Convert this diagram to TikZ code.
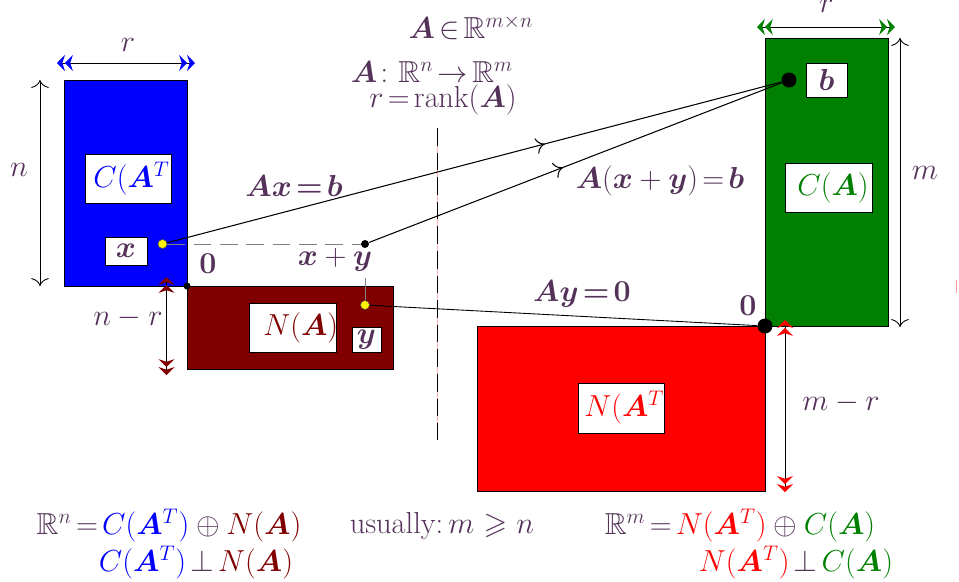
\documentclass[tikz,border=0pt]{standalone}
\usepackage{amsmath,amssymb,bm}
\usetikzlibrary{arrows.meta,decorations.markings}
\definecolor{txtcol}{RGB}{85,50,90}
\colorlet{rowcol}{blue}
\colorlet{nullcol}{red!50!black}
\colorlet{colcol}{green!50!black}
\colorlet{lnullcol}{red}
\thickmuskip=2.5mu
\tikzset{
	every node/.style={text=txtcol, font=\LARGE},
	lab/.style 2 args={draw=black, fill=white, inner sep=0pt, minimum width=#1, minimum height=#2},
	cut/.style n args={4}{draw=black, fill=white, inner sep=0pt, minimum width=#1, minimum height=#2,
		path picture={\node[anchor=west, inner sep=0pt, minimum width=0pt, minimum height=0pt, draw=none, fill=none]
			at ([xshift=#3]path picture bounding box.west) {#4};}},
	twin/.style={black, line width=0.5pt, {Stealth[length=4.5pt,width=9pt,inset=1.5pt,color=#1]Stealth[length=4.5pt,width=9pt,inset=1.5pt,color=#1]}-{Stealth[length=4.5pt,width=9pt,inset=1.5pt,color=#1]Stealth[length=4.5pt,width=9pt,inset=1.5pt,color=#1]}},
	dimline/.style={black, line width=0.5pt, {To[length=4.5pt,width=10pt]}-{To[length=4.5pt,width=10pt]}},
	flow/.style={black, line width=0.6pt, decoration={markings, mark=at position #1 with {\arrow{To[length=5pt,width=9pt]}}}, postaction={decorate}},
	ydot/.style={circle, fill=yellow, draw=black!70, line width=0.3pt, inner sep=0pt, minimum size=0.18cm},
	bdot/.style={circle, fill=black, inner sep=0pt, minimum size=#1},
}
\begin{document}
\begin{tikzpicture}
	\pgfmathsetmacro{\rk}{2.46}
	\pgfmathsetmacro{\nn}{4.12}
	\pgfmathsetmacro{\mm}{5.76}
	\useasboundingbox (-3.74,-5.9) rectangle (15.44,5.72);
	\coordinate (O1) at (0,0);
	\coordinate (O2) at (11.56,-0.8);
	\draw[black, fill=rowcol] (O1) rectangle ++(-\rk, \nn);
	\draw[black, fill=nullcol] (O1) rectangle ++(\nn, \rk-\nn);
	\draw[black, fill=colcol] (O2) rectangle ++(\rk, \mm);
	\draw[black, fill=lnullcol] (O2) rectangle ++(-\mm, \rk-\mm);
	\draw[red!30, line width=0.3pt] (5.0,3.16) -- (5.0,-3.08);
	\draw[black, dash pattern=on 10pt off 4pt] (5.0,3.16) -- (5.0,-3.08);
	\draw[red!40] (15.38,0.12) -- (15.38,-0.14);
	\draw[twin=rowcol] (-2.6,4.46) -- (0.16,4.46);
	\draw[dimline] (-2.94,4.12) -- (-2.94,0);
	\draw[twin=nullcol] (-0.41,0.18) -- (-0.41,-1.78);
	\draw[twin=colcol] (11.4,5.18) -- (14.16,5.18);
	\draw[dimline] (14.26,4.96) -- (14.26,-0.82);
	\draw[twin=lnullcol] (11.96,-0.68) -- (11.96,-4.12);
	\node (rl) at (-1.18,4.82) {$r$};
	\node (rr) at (12.79,5.6) {$r$};
	\node (nl) at (-3.36,2.32) {$n$};
	\node (ml) at (14.76,2.26) {$m$};
	\node (nrl) at (-1.18,-0.64) {$n-r$};
	\node (mrl) at (13.08,-2.34) {$m-r$};
	\node[cut={1.72cm}{0.98cm}{0.16cm}{\color{rowcol}$C(\bm{A}^T)$}] (CAT) at (-1.18,2.15) {};
	\node[cut={1.74cm}{0.98cm}{0.28cm}{\color{nullcol}$N(\bm{A})$}] (NA) at (2.11,-0.83) {};
	\node[cut={1.74cm}{0.98cm}{0.24cm}{\color{colcol}$C(\bm{A})$}] (CA) at (12.83,1.97) {};
	\node[cut={1.72cm}{1.0cm}{0.12cm}{\color{lnullcol}$N(\bm{A}^T)$}] (NAT) at (8.68,-2.44) {};
	\node[lab={0.84cm}{0.56cm}] (xb) at (-1.22,0.7) {$\bm{x}$};
	\node[lab={0.58cm}{0.5cm}] (yb) at (3.59,-1.07) {$\bm{y}$};
	\node[lab={0.82cm}{0.68cm}] (bb) at (12.79,4.12) {$\bm{b}$};
	\node (zl) at (0.42,0.44) {$\bm{0}$};
	\node (zr) at (11.22,-0.40) {$\bm{0}$};
	\node (xyl) at (2.96,0.52) {$\bm{x}+\bm{y}$};
	\node[ydot] (xd) at (-0.49,0.84) {};
	\node[bdot=0.16cm] (xyd) at (3.56,0.84) {};
	\node[ydot] (yd) at (3.56,-0.38) {};
	\node[bdot=0.14cm] (o1) at (O1) {};
	\node[bdot=0.3cm] (bd) at (12.04,4.12) {};
	\node[bdot=0.3cm] (o2) at (O2) {};
	\draw[gray, dash pattern=on 10pt off 5pt] (xd) -- (xyd);
	\draw[gray] (yd |- xyl.south) -- (yd);
	\draw[flow=0.615] (xd) -- (bd);
	\draw[flow=0.47] (xyd) -- (bd);
	\draw[black, line width=0.5pt] (yd) -- (o2);
	\node (eqAx) at (2.14,2.0) {$\bm{Ax=b}$};
	\node (eqAxy) at (9.46,2.10) {$\bm{A}(\bm{x}+\bm{y})=\bm{b}$};
	\node (eqAy) at (7.9,-0.16) {$\bm{Ay=0}$};
	\node (dims) at (5.68,5.18) {$\bm{A}\in\mathbb{R}^{m\times n}$};
	\node (map) at (4.90,4.28) {$\bm{A}\colon\mathbb{R}^n\to\mathbb{R}^m$};
	\node (rank) at (5.12,3.72) {$r=\operatorname{rank}(\bm{A})$};
	\node (sumn) at (-0.36,-4.8) {$\mathbb{R}^n=\textcolor{rowcol}{C(\bm{A}^T)}\oplus\textcolor{nullcol}{N(\bm{A})}$};
	\node (perpn) at (0.18,-5.54) {$\textcolor{rowcol}{C(\bm{A}^T)}\perp\textcolor{nullcol}{N(\bm{A})}$};
	\node (usual) at (5.10,-4.8) {usually:\,$m\mskip3mu\geqslant\mskip3mu n$};
	\node (summ) at (11.06,-4.8) {$\mathbb{R}^m=\textcolor{lnullcol}{N(\bm{A}^T)}\oplus\textcolor{colcol}{C(\bm{A})}$};
	\node (perpm) at (12.18,-5.54) {$\textcolor{lnullcol}{N(\bm{A}^T)}\perp\textcolor{colcol}{C(\bm{A})}$};
\end{tikzpicture}
\end{document}
